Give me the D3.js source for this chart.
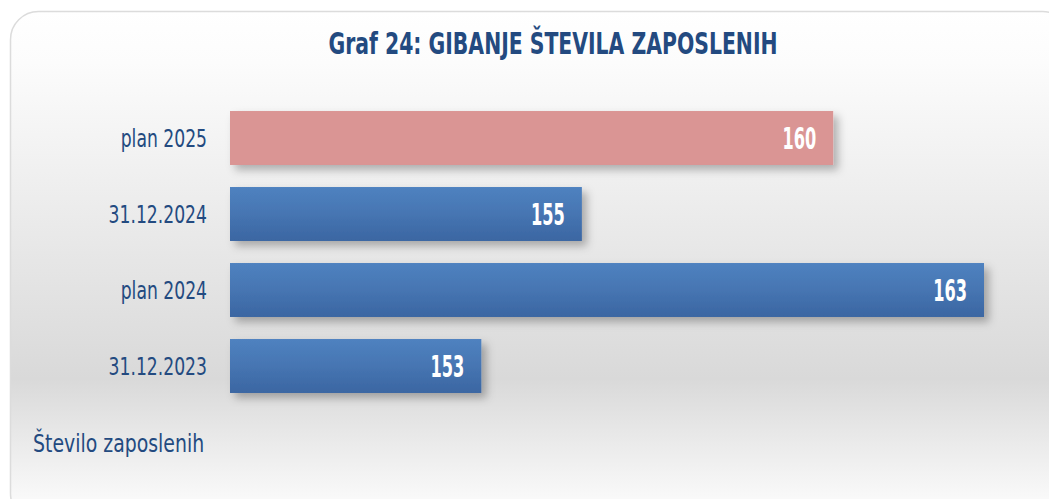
<!DOCTYPE html>
<html><head><meta charset="utf-8">
<script src="https://cdn.jsdelivr.net/npm/d3@7"></script>
<style>
html,body{margin:0;padding:0;background:#fff;overflow:hidden;}
svg{display:block;}
</style></head>
<body>
<svg id="chart" width="1049" height="499"></svg>
<script>
const title = "Graf 24: GIBANJE ŠTEVILA ZAPOSLENIH";
const categories = ["plan 2025", "31.12.2024", "plan 2024", "31.12.2023"];
const values = [160, 155, 163, 153];
const isPlan2025 = [true, false, false, false];
const axisTitle = "Število zaposlenih";

const FONT = "'DejaVu Sans Condensed', 'DejaVu Sans', sans-serif";
const TEXT = "#234a80";

const svg = d3.select("#chart");
const defs = svg.append("defs");

const bg = defs.append("linearGradient").attr("id","bg").attr("x1",0).attr("y1",0).attr("x2",0).attr("y2",1);
[[0,"#ffffff"],[0.1,"#fcfcfc"],[0.72,"#d9d9d9"],[0.85,"#ebebeb"],[1,"#ffffff"]].forEach(([o,c])=>bg.append("stop").attr("offset",o).attr("stop-color",c));

const blue = defs.append("linearGradient").attr("id","blue").attr("x1",0).attr("y1",0).attr("x2",0).attr("y2",1);
[[0,"#4f82c0"],[0.5,"#4675b2"],[1,"#3b66a2"]].forEach(([o,c])=>blue.append("stop").attr("offset",o).attr("stop-color",c));

const sh = defs.append("filter").attr("id","shadow").attr("x","-5%").attr("y","-20%").attr("width","115%").attr("height","160%");
sh.append("feDropShadow").attr("dx",5).attr("dy",5).attr("stdDeviation",4).attr("flood-color","#000").attr("flood-opacity",0.28);

svg.append("rect").attr("x",10.5).attr("y",11.5).attr("width",1060).attr("height",510).attr("rx",28)
  .attr("fill","url(#bg)").attr("stroke","#dcdcdc").attr("stroke-width",1.5);

svg.append("g").attr("transform","translate(553,53.5) scale(0.755,1)")
  .append("text").attr("text-anchor","middle")
  .style("font-family",FONT).style("font-weight","bold").style("font-size","30px").attr("fill",TEXT).text(title);

const x = d3.scaleLinear().domain([148, 163]).range([230, 984]);
const y = d3.scaleBand().domain(categories).range([100, 404]).paddingInner(0.29).paddingOuter(0.145);

const g = svg.append("g");
categories.forEach((c,i)=>{
  g.append("rect").attr("x",x(148)).attr("y",y(c)).attr("width",x(values[i])-x(148)).attr("height",y.bandwidth())
    .attr("fill", isPlan2025[i] ? "#da9594" : "url(#blue)").attr("filter","url(#shadow)");
});
categories.forEach((c,i)=>{
  g.append("g").attr("transform",`translate(${x(values[i])-17},${y(c)+y.bandwidth()/2}) scale(0.6,1)`)
    .append("text").attr("dy","0.365em")
    .attr("text-anchor","end").style("font-family",FONT).style("font-weight","bold").style("font-size","30px")
    .attr("fill","#fff").text(values[i]);
});

const yAxis = d3.axisLeft(y).tickSize(0).tickPadding(0);
const ay = svg.append("g").attr("transform","translate(207,0)").call(yAxis);
ay.select(".domain").remove();
ay.selectAll("text").style("font-family",FONT).style("font-size","25.5px").attr("fill",TEXT).attr("dy","0.36em")
  .attr("transform","scale(0.75,1)");

svg.append("g").attr("transform","translate(33,451.5) scale(0.84,1)")
  .append("text").style("font-family",FONT).style("font-size","25px").attr("fill",TEXT).text(axisTitle);
</script>
</body></html>
